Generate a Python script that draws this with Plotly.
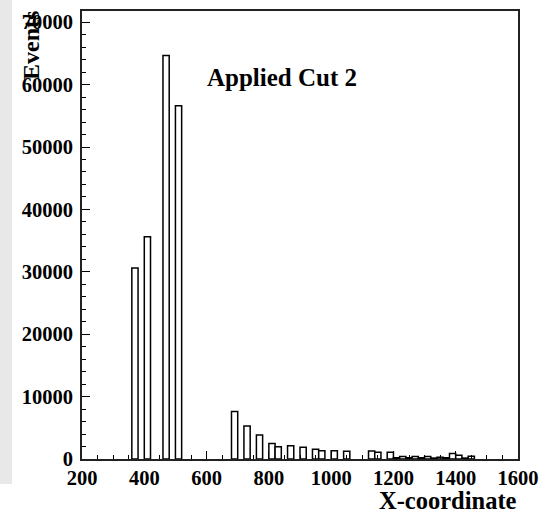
import plotly.graph_objects as go

# Histogram bins (lower edges, width 20) and counts
bin_lo = [360, 400, 460, 500, 680, 720, 760, 800, 820, 860, 900, 940, 960,
          1000, 1040, 1120, 1140, 1180, 1200, 1220, 1240, 1260, 1280, 1300,
          1320, 1340, 1360, 1380, 1400, 1420, 1440]
counts = [30600, 35600, 64650, 56600, 7600, 5300, 3850, 2500, 1970, 2140,
          1870, 1550, 1330, 1330, 1250, 1280, 1070, 1100, 200, 400, 200,
          400, 200, 400, 150, 300, 200, 900, 600, 150, 450]
bin_width = 20
x_ticks = [200, 400, 600, 800, 1000, 1200, 1400, 1600]
y_ticks = [0, 10000, 20000, 30000, 40000, 50000, 60000, 70000]

centers = [b + bin_width / 2 for b in bin_lo]

FONT = "Liberation Serif"

fig = go.Figure()
fig.add_trace(go.Bar(
    x=centers, y=counts, width=bin_width,
    marker=dict(color="white", line=dict(color="black", width=1.5)),
    showlegend=False, hoverinfo="skip",
))

W, H = 540, 514
L, R, T, B = 82, 22, 11, 55
pw, ph = W - L - R, H - T - B

def px(x):
    return (x - L) / pw

def py(y):
    return (H - B - y) / ph

fig.update_layout(
    width=W, height=H,
    margin=dict(l=L, r=R, t=T, b=B, pad=0, autoexpand=False),
    paper_bgcolor="white", plot_bgcolor="white",
    xaxis=dict(
        range=[200, 1600], tickvals=x_ticks,
        ticktext=[str(v) for v in x_ticks],
        ticks="inside", ticklen=8, tickwidth=1, tickcolor="black",
        minor=dict(dtick=50, tick0=200, ticks="inside", ticklen=4,
                   tickcolor="black", showgrid=False),
        showline=True, linecolor="#222", linewidth=2, mirror=True,
        showgrid=False, zeroline=False, automargin=False,
        ticklabelstandoff=-1,
        tickfont=dict(family=FONT, size=20.5, color="black", weight="bold"),
    ),
    yaxis=dict(
        range=[0, 71800], tickvals=y_ticks,
        ticktext=[str(v) for v in y_ticks],
        ticks="inside", ticklen=8, tickwidth=1, tickcolor="black",
        minor=dict(dtick=2000, tick0=0, ticks="inside", ticklen=4,
                   tickcolor="black", showgrid=False),
        showline=True, linecolor="#222", linewidth=2, mirror=True,
        showgrid=False, zeroline=False, automargin=False,
        ticklabelstandoff=3,
        tickfont=dict(family=FONT, size=20.5, color="black", weight="bold"),
    ),
    shapes=[
        dict(type="rect", xref="paper", yref="paper",
             x0=px(0), x1=px(12), y0=py(484), y1=py(0),
             fillcolor="#e8e8e8", line=dict(width=0), layer="below"),
    ],
    annotations=[
        dict(text="<b>Applied Cut 2</b>", xref="paper", yref="paper",
             x=px(205), y=py(77), xanchor="left", yanchor="middle",
             showarrow=False, font=dict(family=FONT, size=25, color="black")),
        dict(text="<b>X-coordinate</b>", xref="paper", yref="paper",
             x=px(519), y=py(500), xanchor="right", yanchor="middle",
             showarrow=False, font=dict(family=FONT, size=24.5, color="black")),
        dict(text="<b>Events</b>", xref="paper", yref="paper",
             x=px(31), y=py(46), xanchor="center", yanchor="middle",
             textangle=-90, showarrow=False,
             font=dict(family=FONT, size=24, color="black")),
    ],
)

fig.write_html(
    "out.html",
    config={"displayModeBar": False},
    post_script="document.body.style.margin='0';document.body.style.padding='0';",
)
